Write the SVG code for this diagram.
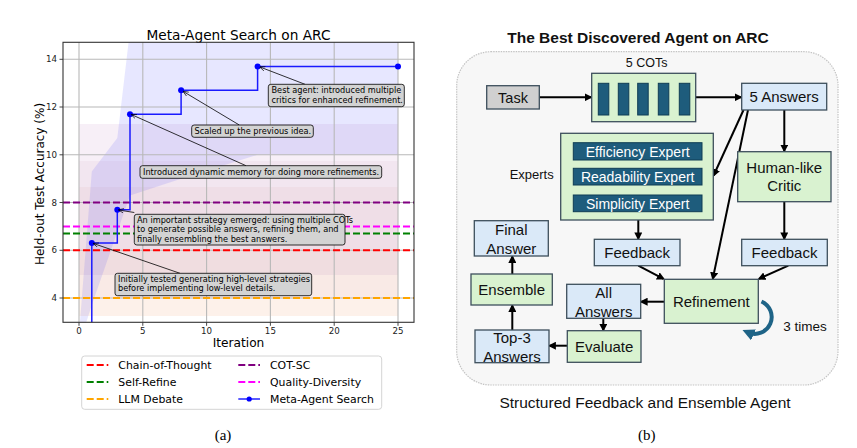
<svg xmlns="http://www.w3.org/2000/svg" width="857" height="448" viewBox="0 0 857 448">
<style>
.mpl{font-family:"DejaVu Sans",sans-serif;fill:#000}
.tick{font-size:8.7px;fill:#222}
.ann{font-size:8.2px}
.grid{stroke:#b8b8b8;stroke-width:1.1}
.base{stroke-width:2;stroke-dasharray:7,3;fill:none}
.abox{fill:#d3d3d3;stroke:#000;stroke-width:0.8}
.aline{stroke:#000;stroke-width:0.8;fill:none}
.lbl{font-family:"Liberation Sans",Arial,sans-serif;fill:#111}
.n15{font-size:15px}
.box{stroke:#3d4f5c;stroke-width:1.3}
.green{fill:#d9f2d0}
.blue{fill:#dae9f8}
.gray{fill:#d0d0d0}
.teal{fill:#1e5c7c;stroke:#0f3d54;stroke-width:1}
.wt{font-family:"Liberation Sans",Arial,sans-serif;font-size:14px;fill:#fff}
.arr{stroke:#000;stroke-width:2;fill:none;marker-end:url(#ah)}
</style>
<defs>
<marker id="ah" viewBox="0 0 10 10" refX="8" refY="5" markerWidth="4" markerHeight="4" orient="auto"><path d="M0,0 L10,5 L0,10 z" fill="#000"/></marker>
<marker id="sah" viewBox="0 0 10 10" refX="9" refY="5" markerWidth="7" markerHeight="7" orient="auto"><path d="M0,1 L10,5 L0,9" fill="none" stroke="#000" stroke-width="1.2"/></marker>
<marker id="tah" viewBox="0 0 10 10" refX="5" refY="5" markerWidth="3" markerHeight="3" orient="auto"><path d="M0,0 L10,5 L0,10 z" fill="#1f6487"/></marker>
<clipPath id="plot"><rect x="63" y="42.3" width="351" height="280"/></clipPath>
</defs>
<rect width="857" height="448" fill="#fff"/>

<!-- Panel (a) -->
<g id="chart">
<text class="mpl" x="238.5" y="39.5" font-size="13.7" text-anchor="middle">Meta-Agent Search on ARC</text>
<g clip-path="url(#plot)">
<rect x="79" y="124" width="319" height="37" fill="#f7eff7"/>
<rect x="79" y="161" width="319" height="26" fill="#f2e6f0"/>
<rect x="79" y="187" width="319" height="63" fill="#efdee7"/>
<rect x="79" y="250" width="319" height="25" fill="#f0dde0"/>
<rect x="79" y="275" width="319" height="23" fill="#f9eae6"/>
<rect x="79" y="298" width="319" height="18" fill="#fdf1ea"/>
<polygon points="79,334 91.8,171.5 117.3,138.1 130,30 398,30 398,154.8 257.6,154.8 181.1,178.7 130,195.5 91.8,305 79,345" fill="#2020ff" fill-opacity="0.11"/>
<g class="grid">
<line x1="79" y1="42" x2="79" y2="322"/><line x1="142.8" y1="42" x2="142.8" y2="322"/><line x1="206.6" y1="42" x2="206.6" y2="322"/><line x1="270.4" y1="42" x2="270.4" y2="322"/><line x1="334.2" y1="42" x2="334.2" y2="322"/><line x1="398" y1="42" x2="398" y2="322"/>
<line x1="63" y1="298" x2="414" y2="298"/><line x1="63" y1="250.3" x2="414" y2="250.3"/><line x1="63" y1="202.5" x2="414" y2="202.5"/><line x1="63" y1="154.8" x2="414" y2="154.8"/><line x1="63" y1="107" x2="414" y2="107"/><line x1="63" y1="59.3" x2="414" y2="59.3"/>
</g>
<line class="base" x1="63" y1="202.5" x2="414" y2="202.5" stroke="#800080"/>
<line class="base" x1="63" y1="226.4" x2="414" y2="226.4" stroke="#ff00ff"/>
<line class="base" x1="63" y1="233.5" x2="414" y2="233.5" stroke="#008000"/>
<line class="base" x1="63" y1="250.3" x2="414" y2="250.3" stroke="#ff0000"/>
<line class="base" x1="63" y1="298" x2="414" y2="298" stroke="#ffa500"/>
<path d="M91.8,330 V243.1 H117.3 V209.7 H130 V114.2 H181.1 V90.3 H257.6 V66.5 H398" fill="none" stroke="#1a1aff" stroke-width="1.5"/>
<g fill="#0000ff"><circle cx="91.8" cy="243.1" r="3"/><circle cx="117.3" cy="209.7" r="3"/><circle cx="130" cy="114.2" r="3"/><circle cx="181.1" cy="90.3" r="3"/><circle cx="257.6" cy="66.5" r="3"/><circle cx="398" cy="66.5" r="3"/></g>
</g>
<rect x="63" y="42.3" width="351" height="280" fill="none" stroke="#333" stroke-width="1.1"/>
<g stroke="#333" stroke-width="0.9">
<line x1="59.5" y1="298" x2="63" y2="298"/><line x1="59.5" y1="250.3" x2="63" y2="250.3"/><line x1="59.5" y1="202.5" x2="63" y2="202.5"/><line x1="59.5" y1="154.8" x2="63" y2="154.8"/><line x1="59.5" y1="107" x2="63" y2="107"/><line x1="59.5" y1="59.3" x2="63" y2="59.3"/>
<line x1="79" y1="322.3" x2="79" y2="325.8"/><line x1="142.8" y1="322.3" x2="142.8" y2="325.8"/><line x1="206.6" y1="322.3" x2="206.6" y2="325.8"/><line x1="270.4" y1="322.3" x2="270.4" y2="325.8"/><line x1="334.2" y1="322.3" x2="334.2" y2="325.8"/><line x1="398" y1="322.3" x2="398" y2="325.8"/>
</g>
<g class="mpl tick" text-anchor="end">
<text x="57" y="301">4</text><text x="57" y="253.3">6</text><text x="57" y="205.5">8</text><text x="57" y="157.8">10</text><text x="57" y="110">12</text><text x="57" y="62.3">14</text>
</g>
<g class="mpl tick" text-anchor="middle">
<text x="79" y="334">0</text><text x="142.8" y="334">5</text><text x="206.6" y="334">10</text><text x="270.4" y="334">15</text><text x="334.2" y="334">20</text><text x="398" y="334">25</text>
</g>
<text class="mpl" x="238.5" y="347" font-size="12.2" text-anchor="middle">Iteration</text>
<text class="mpl" transform="translate(43.5,184) rotate(-90)" font-size="12" text-anchor="middle">Held-out Test Accuracy (%)</text>
</g>

<g id="annotations">
<line class="aline" x1="305" y1="84.3" x2="260" y2="67" marker-end="url(#sah)"/>
<line class="aline" x1="239.3" y1="125" x2="183.3" y2="91.5" marker-end="url(#sah)"/>
<line class="aline" x1="246" y1="165.7" x2="131.5" y2="114.6" marker-end="url(#sah)"/>
<line class="aline" x1="134.3" y1="212.5" x2="118.8" y2="210" marker-end="url(#sah)"/>
<line class="aline" x1="180" y1="273.3" x2="93.5" y2="243.5" marker-end="url(#sah)"/>
<rect class="abox" x="268.3" y="84.3" width="136" height="22.4" rx="2.5"/>
<text class="mpl ann" x="271.5" y="93.3">Best agent: introduced multiple</text>
<text class="mpl ann" x="271.5" y="102.8">critics for enhanced refinement.</text>
<rect class="abox" x="191.7" y="125" width="121.6" height="12.3" rx="2.5"/>
<text class="mpl ann" x="194.5" y="134">Scaled up the previous idea.</text>
<rect class="abox" x="140" y="165.7" width="241.7" height="12.6" rx="2.5"/>
<text class="mpl ann" x="143" y="174.8">Introduced dynamic memory for doing more refinements.</text>
<rect class="abox" x="134.3" y="214.3" width="210.7" height="30.7" rx="2.5"/>
<text class="mpl ann" x="137" y="223">An important strategy emerged: using multiple COTs</text>
<text class="mpl ann" x="137" y="232.3">to generate possible answers, refining them, and</text>
<text class="mpl ann" x="137" y="241.6">finally ensembling the best answers.</text>
<rect class="abox" x="115" y="273.3" width="196.7" height="22.4" rx="2.5"/>
<text class="mpl ann" x="118" y="281.7">Initially tested generating high-level strategies</text>
<text class="mpl ann" x="118" y="291.2">before implementing low-level details.</text>
</g>

<g id="legend">
<rect x="81.7" y="356" width="300" height="53.3" rx="3" fill="#fff" stroke="#d4d4d4" stroke-width="1"/>
<line class="base" x1="86.7" y1="365" x2="108.3" y2="365" stroke="#ff0000" stroke-dasharray="5,2.5"/>
<line class="base" x1="86.7" y1="382" x2="108.3" y2="382" stroke="#008000" stroke-dasharray="5,2.5"/>
<line class="base" x1="86.7" y1="399" x2="108.3" y2="399" stroke="#ffa500" stroke-dasharray="5,2.5"/>
<line class="base" x1="238.3" y1="365" x2="260" y2="365" stroke="#800080" stroke-dasharray="5,2.5"/>
<line class="base" x1="238.3" y1="382" x2="260" y2="382" stroke="#ff00ff" stroke-dasharray="5,2.5"/>
<line x1="238.3" y1="399" x2="260" y2="399" stroke="#0000ff" stroke-width="1.3"/>
<circle cx="249.2" cy="399" r="2.6" fill="#0000ff"/>
<g class="mpl" font-size="10.9">
<text x="118.3" y="368.8">Chain-of-Thought</text>
<text x="118.3" y="385.8">Self-Refine</text>
<text x="118.3" y="402.8">LLM Debate</text>
<text x="270" y="368.8">COT-SC</text>
<text x="270" y="385.8">Quality-Diversity</text>
<text x="270" y="402.8">Meta-Agent Search</text>
</g>
</g>
<text x="223" y="440" font-family="Liberation Serif,serif" font-size="15" text-anchor="middle">(a)</text>

<!-- Panel (b) -->
<text class="lbl" x="638" y="43" font-size="15.5" font-weight="bold" text-anchor="middle">The Best Discovered Agent on ARC</text>
<rect id="container" x="456.7" y="51.7" width="381.3" height="333.3" rx="34" fill="#f7f7f7" stroke="#c4c4c4" stroke-width="1.2" stroke-dasharray="1.5,1"/>
<text class="lbl" x="646.7" y="66.5" font-size="12.5" text-anchor="middle">5 COTs</text>
<text class="lbl" x="531.7" y="179" font-size="13" text-anchor="middle">Experts</text>

<g id="connectors">
<line class="arr" x1="539.3" y1="97.3" x2="591" y2="97.3"/>
<line class="arr" x1="695.7" y1="97.3" x2="741" y2="97.3"/>
<line class="arr" x1="784.3" y1="110" x2="784.3" y2="151"/>
<line class="arr" x1="743.5" y1="110" x2="713.6" y2="175.5"/>
<line class="arr" x1="748" y1="110" x2="712.8" y2="278.8"/>
<line class="arr" x1="638.3" y1="220" x2="638.3" y2="238.8"/>
<line class="arr" x1="784.3" y1="201.7" x2="784.3" y2="238.8"/>
<line class="arr" x1="638.3" y1="265.7" x2="663.5" y2="278.8"/>
<line class="arr" x1="788.3" y1="265.7" x2="759" y2="278.8"/>
<line class="arr" x1="664.3" y1="301.7" x2="641.2" y2="301.7"/>
<line class="arr" x1="603.3" y1="318.3" x2="603.3" y2="330.2"/>
<line class="arr" x1="567.3" y1="345.7" x2="549.5" y2="345.7"/>
<line class="arr" x1="512.3" y1="330" x2="512.3" y2="305.5"/>
<line class="arr" x1="512.3" y1="274" x2="512.3" y2="256.5"/>
<path d="M761.5,301.5 A16.5,16.5 0 1 1 748,332.5" fill="none" stroke="#1f6487" stroke-width="4" marker-end="url(#tah)"/>
</g>
<text class="lbl" x="783.3" y="330.7" font-size="13.5">3 times</text>

<g id="task"><rect class="box gray" x="486.7" y="85.7" width="52.6" height="23.3"/><text class="lbl" x="513" y="102.5" font-size="14.5" text-anchor="middle">Task</text></g>
<g id="cots"><rect class="box green" x="591.7" y="73.3" width="104" height="48.4"/>
<rect class="teal" x="598.3" y="83.3" width="10.5" height="31.7"/><rect class="teal" x="618.3" y="83.3" width="10.5" height="31.7"/><rect class="teal" x="637.7" y="83.3" width="10.5" height="31.7"/><rect class="teal" x="658.3" y="83.3" width="10.5" height="31.7"/><rect class="teal" x="679.3" y="83.3" width="10.5" height="31.7"/></g>
<g id="answers5"><rect class="box blue" x="741.7" y="83.3" width="85" height="26.7"/><text class="lbl n15" x="784.2" y="102" text-anchor="middle">5 Answers</text></g>
<g id="experts"><rect class="box green" x="560.7" y="133.3" width="152.6" height="86.7"/>
<rect class="teal" x="573.3" y="142.7" width="128.7" height="17.3"/><text class="wt" x="637.7" y="156.5" text-anchor="middle">Efficiency Expert</text>
<rect class="teal" x="573.3" y="168.3" width="128.7" height="16.7"/><text class="wt" x="637.7" y="181.8" text-anchor="middle">Readability Expert</text>
<rect class="teal" x="573.3" y="195" width="128.7" height="16.7"/><text class="wt" x="637.7" y="208.5" text-anchor="middle">Simplicity Expert</text></g>
<g id="critic"><rect class="box green" x="737.7" y="151.7" width="93.3" height="50"/><text class="lbl n15" x="784.3" y="173" text-anchor="middle">Human-like</text><text class="lbl n15" x="784.3" y="191.3" text-anchor="middle">Critic</text></g>
<g id="feedback1"><rect class="box blue" x="594.3" y="239.3" width="85.7" height="26.4"/><text class="lbl n15" x="637.2" y="258" text-anchor="middle">Feedback</text></g>
<g id="feedback2"><rect class="box blue" x="741.7" y="239.3" width="85.6" height="26.4"/><text class="lbl n15" x="784.5" y="258" text-anchor="middle">Feedback</text></g>
<g id="refinement"><rect class="box green" x="664.3" y="279.3" width="94" height="44"/><text class="lbl n15" x="711.3" y="306.5" text-anchor="middle">Refinement</text></g>
<g id="allanswers"><rect class="box blue" x="566.7" y="284.3" width="74" height="34"/><text class="lbl n15" x="603.7" y="298" text-anchor="middle">All</text><text class="lbl n15" x="603.7" y="317" text-anchor="middle">Answers</text></g>
<g id="evaluate"><rect class="box green" x="567.3" y="330.7" width="73.7" height="31.6"/><text class="lbl n15" x="604.2" y="352" text-anchor="middle">Evaluate</text></g>
<g id="top3"><rect class="box blue" x="475" y="330" width="74" height="32.7"/><text class="lbl n15" x="512" y="342.5" text-anchor="middle">Top-3</text><text class="lbl n15" x="512" y="362" text-anchor="middle">Answers</text></g>
<g id="ensemble"><rect class="box green" x="471" y="274" width="81.3" height="31"/><text class="lbl n15" x="511.7" y="295" text-anchor="middle">Ensemble</text></g>
<g id="final"><rect class="box blue" x="474.3" y="220.7" width="74" height="35.3"/><text class="lbl n15" x="511.3" y="235.3" text-anchor="middle">Final</text><text class="lbl n15" x="511.3" y="254.3" text-anchor="middle">Answer</text></g>

<text class="lbl" x="645" y="408" font-size="15.5" text-anchor="middle">Structured Feedback and Ensemble Agent</text>
<text x="646.7" y="440" font-family="Liberation Serif,serif" font-size="15" text-anchor="middle">(b)</text>
</svg>
